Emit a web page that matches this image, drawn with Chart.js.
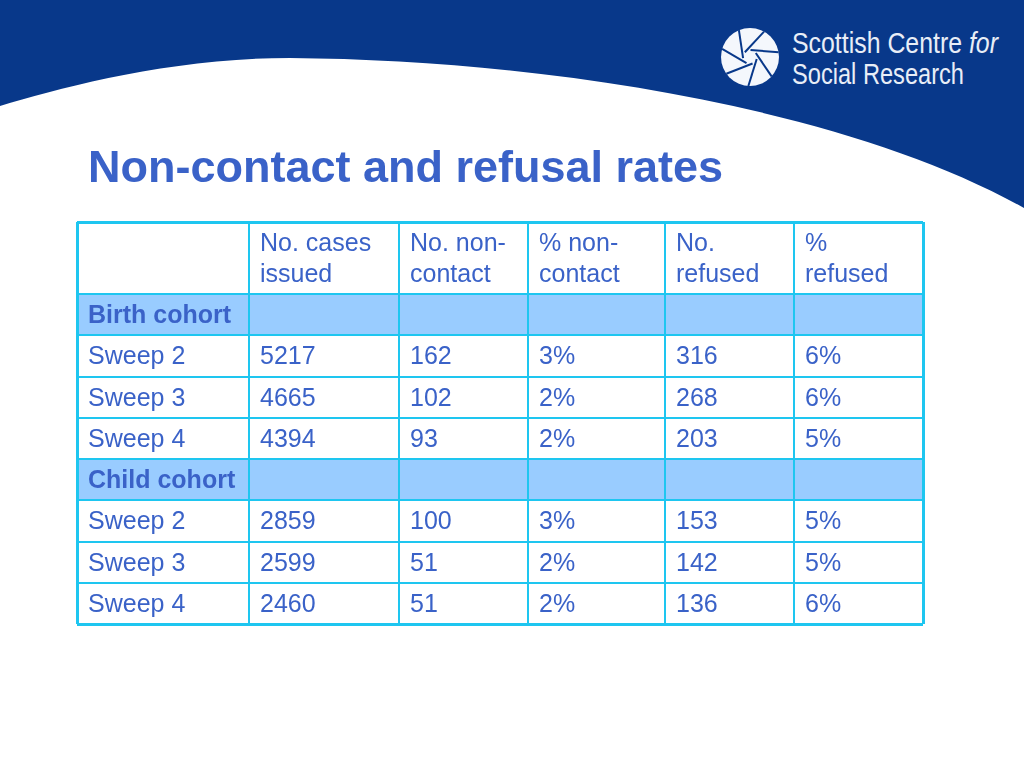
<!DOCTYPE html>
<html>
<head>
<meta charset="utf-8">
<title>Non-contact and refusal rates</title>
<script src="https://cdn.jsdelivr.net/npm/chart.js@4.4.1/dist/chart.umd.min.js"></script>
<style>
  html, body { margin: 0; padding: 0; background: #fff; }
  .slide { position: relative; width: 1024px; height: 768px; overflow: hidden; }
  .slide svg, .slide .chart-container { position: absolute; left: 0; top: 0; }
  .chart-container { width: 1024px; height: 768px; }
</style>
</head>
<body>
<div class="slide">
  <svg width="1024" height="768">
    <rect x="0" y="0" width="1024" height="768" fill="#ffffff"/>
    <path d="M0,0 L1024,0 L1024,208 C850,110 550,60 290,58 C170,58 60,88 0,106 Z" fill="#08388a"/>
    <g id="logo"></g>
    <text x="792" y="53" font-family="Liberation Sans, Arial, sans-serif" font-size="30" fill="#e8eef7"
          textLength="206" lengthAdjust="spacingAndGlyphs">Scottish Centre <tspan font-style="italic">for</tspan></text>
    <text x="792" y="84" font-family="Liberation Sans, Arial, sans-serif" font-size="30" fill="#e8eef7"
          textLength="172" lengthAdjust="spacingAndGlyphs">Social Research</text>
  </svg>
  <div class="chart-container">
    <canvas id="rateTable"></canvas>
  </div>
</div>
<script type="text/javascript">
// table contents
var headerLines = [
  [],
  ["No. cases", "issued"],
  ["No. non-", "contact"],
  ["% non-", "contact"],
  ["No.", "refused"],
  ["%", "refused"]
];
var rowLabels = ["Birth cohort", "Sweep 2", "Sweep 3", "Sweep 4", "Child cohort", "Sweep 2", "Sweep 3", "Sweep 4"];
var casesIssued = [null, 5217, 4665, 4394, null, 2859, 2599, 2460];
var noContact = [null, 162, 102, 93, null, 100, 51, 51];
var pctNoContact = [null, 3, 2, 2, null, 3, 2, 2];
var noRefused = [null, 316, 268, 203, null, 153, 142, 136];
var pctRefused = [null, 6, 6, 5, null, 5, 5, 6];

// table geometry (scale units = px at this size)
var colWidths = [172, 150, 129, 137, 129, 129];
var headerHeight = 72;
var rowHeight = 41.25;

var textColor = "#3a62c8";
var lineColor = "#1ec6f0";
var groupFill = "#99ccff";
var cellFont = "25px 'Liberation Sans', Arial, sans-serif";

// logo: aperture drawn into the svg
(function () {
  var g = document.getElementById("logo");
  var ns = "http://www.w3.org/2000/svg";
  var cx = 750, cy = 57, r = 29, r0 = 7;
  var c = document.createElementNS(ns, "circle");
  c.setAttribute("cx", cx); c.setAttribute("cy", cy); c.setAttribute("r", r);
  c.setAttribute("fill", "#f4f7fc");
  g.appendChild(c);
  for (var k = 0; k < 7; k++) {
    var a = k * 2 * Math.PI / 7 + 0.3;
    var tx = cx + r0 * Math.cos(a), ty = cy + r0 * Math.sin(a);
    var s = Math.sqrt(r * r - r0 * r0);
    var l = document.createElementNS(ns, "line");
    l.setAttribute("x1", tx); l.setAttribute("y1", ty);
    l.setAttribute("x2", tx - s * Math.sin(a)); l.setAttribute("y2", ty + s * Math.cos(a));
    l.setAttribute("stroke", "#08388a"); l.setAttribute("stroke-width", 2);
    g.appendChild(l);
  }
})();

var colEdges = [0];
colWidths.forEach(function (w) { colEdges.push(colEdges[colEdges.length - 1] + w); });
var rowEdges = [0, headerHeight];
rowLabels.forEach(function () { rowEdges.push(rowEdges[rowEdges.length - 1] + rowHeight); });
var tableWidth = colEdges[colEdges.length - 1];
var tableHeight = rowEdges[rowEdges.length - 1];

function rowCenter(i) { return (rowEdges[i + 1] + rowEdges[i + 2]) / 2; }

var groupBars = [];
rowLabels.forEach(function (lab, i) {
  if (casesIssued[i] === null) groupBars.push({ x: [0, tableWidth], y: rowCenter(i) });
});

function cellTexts(i) {
  if (casesIssued[i] === null) return [rowLabels[i]];
  return [rowLabels[i], String(casesIssued[i]), String(noContact[i]), pctNoContact[i] + "%",
          String(noRefused[i]), pctRefused[i] + "%"];
}

function edgeWidth(ctx, max) {
  var v = ctx.tick ? ctx.tick.value : 0;
  return (v === 0 || v === max) ? 3 : 2;
}

var cellText = {
  id: "cellText",
  afterDraw: function (chart) {
    var ctx = chart.ctx;
    var x = chart.scales.x, y = chart.scales.y;
    ctx.save();
    ctx.fillStyle = textColor;
    ctx.font = "bold 45px 'Liberation Sans', Arial, sans-serif";
    ctx.textBaseline = "alphabetic";
    ctx.textAlign = "left";
    ctx.fillText("Non-contact and refusal rates", 88, 182);

    ctx.font = cellFont;
    ctx.textBaseline = "middle";
    var hc = y.getPixelForValue(headerHeight / 2) + 2;
    headerLines.forEach(function (lines, c) {
      lines.forEach(function (t, j) {
        ctx.fillText(t, x.getPixelForValue(colEdges[c]) + 11, hc + (j - (lines.length - 1) / 2) * 31);
      });
    });
    rowLabels.forEach(function (lab, i) {
      var texts = cellTexts(i);
      ctx.font = (texts.length === 1 ? "bold " : "") + cellFont;
      texts.forEach(function (t, c) {
        ctx.fillText(t, x.getPixelForValue(colEdges[c]) + 11, y.getPixelForValue(rowCenter(i)) + 1.5);
      });
    });
    ctx.restore();
  }
};

var chart = new Chart("rateTable", {
  type: "bar",
  data: {
    datasets: [{
      data: groupBars,
      backgroundColor: groupFill,
      borderWidth: 0,
      barThickness: rowHeight
    }]
  },
  options: {
    indexAxis: "y",
    responsive: true,
    maintainAspectRatio: false,
    animation: false,
    events: [],
    layout: { padding: { left: 77, top: 222, right: 1024 - 77 - tableWidth, bottom: 768 - 222 - tableHeight } },
    plugins: { legend: { display: false }, tooltip: { enabled: false } },
    scales: {
      x: {
        type: "linear",
        min: 0,
        max: tableWidth,
        offset: false,
        afterBuildTicks: function (scale) { scale.ticks = colEdges.map(function (v) { return { value: v }; }); },
        ticks: { display: false },
        border: { display: false },
        grid: { color: lineColor, drawTicks: false, offset: false, z: 1,
                lineWidth: function (ctx) { return edgeWidth(ctx, tableWidth); } }
      },
      y: {
        type: "linear",
        reverse: true,
        min: 0,
        max: tableHeight,
        offset: false,
        afterBuildTicks: function (scale) { scale.ticks = rowEdges.map(function (v) { return { value: v }; }); },
        ticks: { display: false },
        border: { display: false },
        grid: { color: lineColor, drawTicks: false, offset: false, z: 1,
                lineWidth: function (ctx) { return edgeWidth(ctx, tableHeight); } }
      }
    }
  },
  plugins: [cellText]
});
</script>
</body>
</html>
